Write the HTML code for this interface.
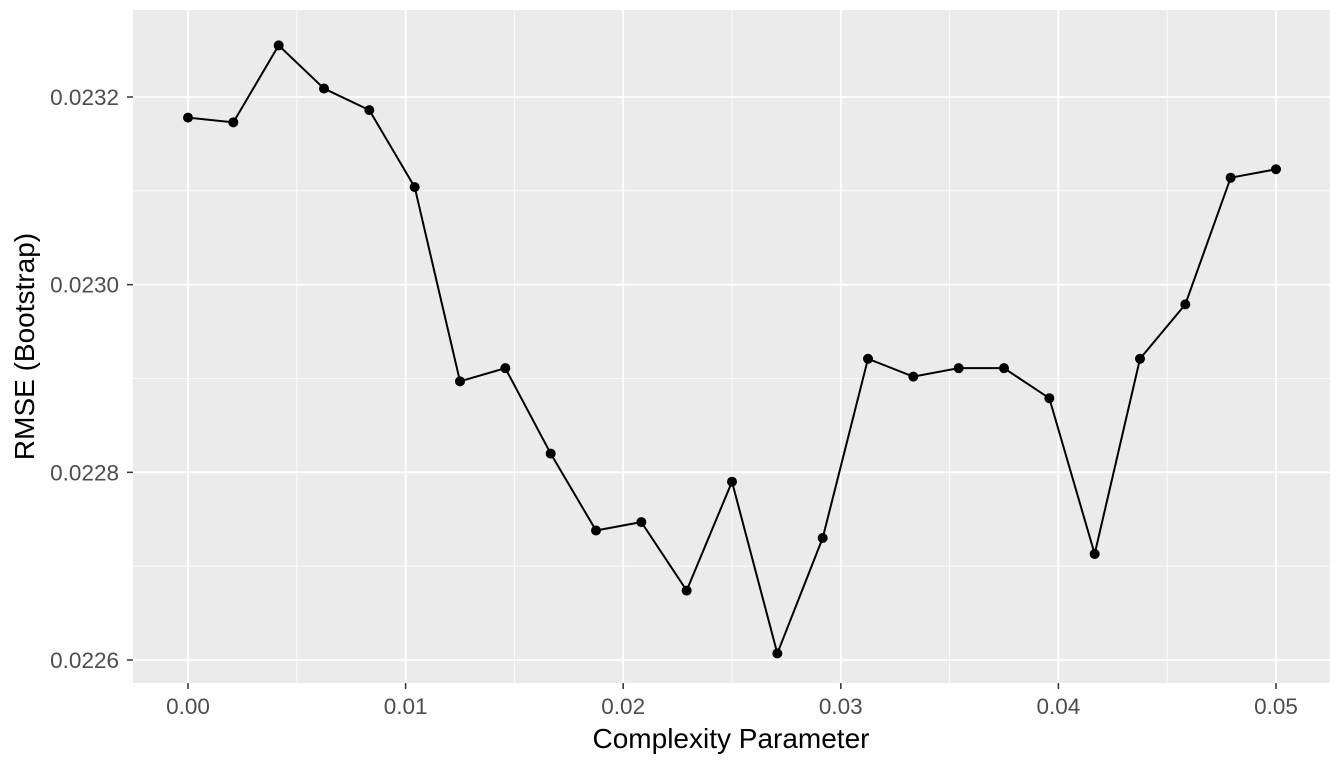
<!DOCTYPE html>
<html><head><meta charset="utf-8"><style>
html,body{margin:0;padding:0;background:#fff;}
svg{display:block;font-family:"Liberation Sans",Arial,sans-serif;}
</style></head><body>
<svg id="chart" width="1344" height="768"></svg>
<script>
const xVals = [0,0.002083,0.004167,0.00625,0.008333,0.010417,0.0125,0.014583,0.016667,0.01875,0.020833,0.022917,0.025,0.027083,0.029167,0.03125,0.033333,0.035417,0.0375,0.039583,0.041667,0.04375,0.045833,0.047917,0.05];
const yVals = [0.023178,0.023173,0.023255,0.023209,0.023186,0.023104,0.022897,0.022911,0.022820,0.022738,0.022747,0.022674,0.022790,0.022607,0.022730,0.022921,0.022902,0.022911,0.022911,0.022879,0.022713,0.022921,0.022979,0.023114,0.023123];
const xTicks = [0,0.01,0.02,0.03,0.04,0.05];
const xTickLabels = ["0.00","0.01","0.02","0.03","0.04","0.05"];
const yTicks = [0.0226,0.0228,0.0230,0.0232];
const yTickLabels = ["0.0226","0.0228","0.0230","0.0232"];

const NS="http://www.w3.org/2000/svg";
const svg=document.getElementById('chart');
const P={l:133,r:1330,t:10,b:683};
const xs=v=>188+(v-0)/0.05*(1276-188);
const ys=v=>97+(0.0232-v)/0.0002*(660-97)/3;
function mk(tag,attrs,parent){const e=document.createElementNS(NS,tag);for(const k in attrs)e.setAttribute(k,attrs[k]);(parent||svg).appendChild(e);return e;}

const bg=mk('rect',{x:P.l,y:P.t,width:P.r-P.l,height:P.b-P.t,fill:'#ebebeb'});



for(let i=0;i<xTicks.length-1;i++){const v=(xTicks[i]+xTicks[i+1])/2;const l=mk('line',{x1:xs(v),x2:xs(v),y1:P.t,y2:P.b,stroke:'#fff','stroke-width':0.8});

}
for(let i=0;i<yTicks.length-1;i++){const v=(yTicks[i]+yTicks[i+1])/2;const l=mk('line',{x1:P.l,x2:P.r,y1:ys(v),y2:ys(v),stroke:'#fff','stroke-width':0.8});

}
xTicks.forEach((v,i)=>{const x=xs(v);
const g=mk('line',{x1:x,x2:x,y1:P.t,y2:P.b,stroke:'#fff','stroke-width':1.8});


const t=mk('line',{x1:x,x2:x,y1:P.b,y2:P.b+6,stroke:'#333','stroke-width':1.5});


const tx=mk('text',{x:x,y:714,'text-anchor':'middle','font-size':22.5,fill:'#4d4d4d'});tx.textContent=xTickLabels[i];

});
yTicks.forEach((v,i)=>{const y=ys(v);
const g=mk('line',{x1:P.l,x2:P.r,y1:y,y2:y,stroke:'#fff','stroke-width':1.8});


const t=mk('line',{x1:P.l-6,x2:P.l,y1:y,y2:y,stroke:'#333','stroke-width':1.5});


const tx=mk('text',{x:119,y:y+8,'text-anchor':'end','font-size':22.5,fill:'#4d4d4d'});tx.textContent=yTickLabels[i];

});

const pts=xVals.map((v,i)=>xs(v)+','+ys(yVals[i])).join(' ');
const line=mk('polyline',{points:pts,fill:'none',stroke:'#000','stroke-width':2});


xVals.forEach((v,i)=>{const c=mk('circle',{cx:xs(v),cy:ys(yVals[i]),r:5,fill:'#000'});

});

const xt=mk('text',{x:731,y:748,'text-anchor':'middle','font-size':28,fill:'#000'});xt.textContent='Complexity Parameter';


const yt=mk('text',{x:0,y:0,'text-anchor':'middle','font-size':28,fill:'#000',transform:'translate(34,'+((P.t+P.b)/2)+') rotate(-90)'});yt.textContent='RMSE (Bootstrap)';


</script>
</body></html>
